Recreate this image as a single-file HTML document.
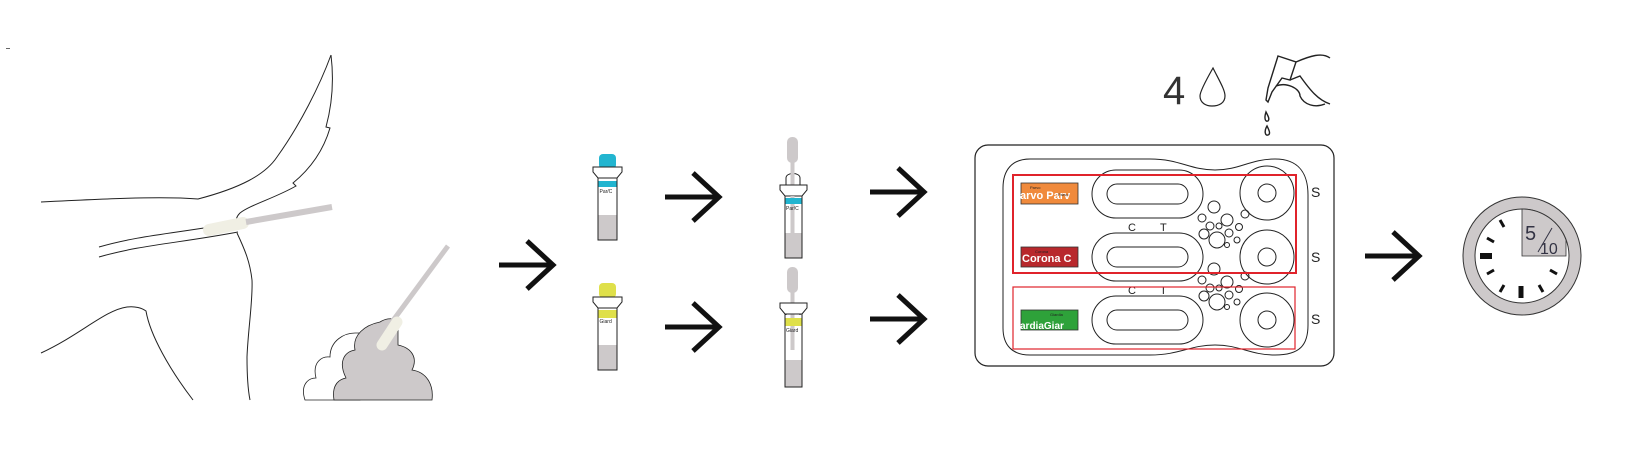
<!DOCTYPE html>
<html><head><meta charset="utf-8"><style>html,body{margin:0;padding:0;background:#fff}svg{display:block}</style></head><body>
<svg width="1626" height="470" viewBox="0 0 1626 470" xmlns="http://www.w3.org/2000/svg" font-family="Liberation Sans, sans-serif">
<defs>
<g id="arrow"><path d="M0 0 H54 M28 -24 L54 0 L28 24" fill="none" stroke="#111" stroke-width="5"/></g>
<g id="bub">
<circle cx="1214" cy="207" r="6"/><circle cx="1202" cy="218" r="4"/><circle cx="1227" cy="220" r="6"/><circle cx="1219" cy="226" r="3"/><circle cx="1210" cy="226" r="4"/><circle cx="1239" cy="227" r="3.5"/><circle cx="1204" cy="234" r="5"/><circle cx="1229" cy="233" r="4"/><circle cx="1217" cy="240" r="8"/><circle cx="1237" cy="240" r="3"/><circle cx="1227" cy="245" r="2.5"/><circle cx="1245" cy="214" r="4"/>
</g>
</defs>
<!-- dog -->
<g fill="none" stroke="#222" stroke-width="1">
<path d="M41 202 C100 199 160 196 198 199 C240 188 265 175 277 157 C300 125 320 85 331 55"/>
<path d="M331 55 C334 80 332 105 326 127 L330 128 C325 145 315 165 293 183 L296 186 C275 198 250 205 240 213 C236 217 236 220 237 222"/>
<path d="M99 247 C140 235 180 233 240 222"/>
<path d="M99 257 C140 245 180 243 238 232"/>
<path d="M237 233 C245 250 250 262 252 280 C253 300 248 330 247 357 C247 375 248 390 250 400"/>
<path d="M41 353 C80 335 105 310 127 307 C135 306 142 308 146 311 C150 335 170 370 193 400"/>
</g>
<path d="M209 230 L243 223" stroke="#f0efe4" stroke-width="12" stroke-linecap="round"/>
<path d="M246 222 L332 207" stroke="#cdc9ca" stroke-width="6"/>
<!-- poop -->
<path d="M305 400 C300 385 308 378 316 378 C312 362 322 356 330 357 C330 340 345 333 355 333 L360 333 L360 400 Z" fill="#fff" stroke="#222" stroke-width="0.8"/>
<path d="M334 400 C332 388 336 380 346 378 C338 362 344 352 355 350 C352 335 365 325 380 322 C386 318 392 318 398 320 L398 345 C412 348 418 358 412 370 C426 372 434 384 432 400 Z" fill="#cdc9ca" stroke="#222" stroke-width="0.8"/>
<path d="M386 330 L448 246" stroke="#cdc9ca" stroke-width="5"/>
<path d="M382 345 L397 322" stroke="#f0efe4" stroke-width="11" stroke-linecap="round"/>
<use href="#arrow" x="499" y="265"/>
<!-- tubes -->
<g>
<rect x="599" y="154" width="17" height="15" rx="4" fill="#22b5d0"/>
<path d="M593 167 H622 V172 L617 178 H598 L593 172 Z" fill="#fff" stroke="#222" stroke-width="1"/>
<rect x="598" y="178" width="19" height="62" fill="#fff" stroke="#222" stroke-width="1"/>
<rect x="598.5" y="215" width="18" height="24.5" fill="#cdc9ca"/>
<rect x="598.5" y="181" width="18" height="6" fill="#22b5d0"/>
<text x="599.5" y="193" font-size="5" fill="#222">Par/C</text>
</g>
<g>
<rect x="599" y="283" width="17" height="15" rx="4" fill="#dfe04a"/>
<path d="M593 297 H622 V302 L617 308 H598 L593 302 Z" fill="#fff" stroke="#222" stroke-width="1"/>
<rect x="598" y="308" width="19" height="62" fill="#fff" stroke="#222" stroke-width="1"/>
<rect x="598.5" y="345" width="18" height="24.5" fill="#cdc9ca"/>
<rect x="598.5" y="310" width="18" height="8" fill="#dfe04a"/>
<text x="599.5" y="323" font-size="5" fill="#222">Giard</text>
</g>
<use href="#arrow" x="665" y="197"/>
<use href="#arrow" x="665" y="327"/>
<!-- swab tubes -->
<g>
<rect x="787" y="137" width="11" height="26" rx="5" fill="#cdc9ca"/>
<rect x="790.5" y="160" width="4" height="60" fill="#cdc9ca"/>
<path d="M786 185 V178 C786 172 800 172 800 178 V185" fill="#fff" stroke="#222"/>
<rect x="790.5" y="172" width="4" height="60" fill="#cdc9ca"/>
<path d="M780 185 H807 V190 L802 196 H785 L780 190 Z" fill="#fff" stroke="#222"/>
<rect x="785" y="196" width="17" height="62" fill="none" stroke="#222"/>
<rect x="790.5" y="196" width="4" height="40" fill="#cdc9ca"/>
<rect x="785.5" y="233" width="16" height="24.5" fill="#cdc9ca"/>
<rect x="785.5" y="198" width="16" height="6" fill="#22b5d0"/>
<text x="786" y="210" font-size="5" fill="#222">Par/C</text>
</g>
<g>
<rect x="787" y="267" width="11" height="26" rx="5" fill="#cdc9ca"/>
<path d="M786 315 V308 C786 302 800 302 800 308 V315" fill="#fff" stroke="#222"/>
<rect x="790.5" y="290" width="4" height="60" fill="#cdc9ca"/>
<path d="M780 303 H807 V308 L802 314 H785 L780 308 Z" fill="#fff" stroke="#222"/>
<rect x="785" y="314" width="17" height="73" fill="none" stroke="#222"/>
<rect x="785.5" y="360" width="16" height="26.5" fill="#cdc9ca"/>
<rect x="785.5" y="318" width="16" height="8" fill="#dfe04a"/>
<text x="786" y="332" font-size="5" fill="#222">Giard</text>
</g>
<use href="#arrow" x="870" y="192"/>
<use href="#arrow" x="870" y="319"/>
<!-- card -->
<rect x="975" y="145" width="359" height="221" rx="13" fill="#fff" stroke="#222" stroke-width="1.2"/>
<path d="M1030 159 H1150 C1180 159 1190 170 1215 170 C1240 170 1250 159 1275 159 C1300 159 1308 175 1308 195 V325 C1308 345 1300 355 1275 355 C1250 355 1240 345 1215 345 C1190 345 1180 355 1150 355 H1030 C1012 355 1003 345 1003 328 V188 C1003 170 1012 159 1030 159 Z" fill="none" stroke="#222" stroke-width="1"/>
<g fill="none" stroke="#222" stroke-width="1">
<rect x="1092" y="170" width="111" height="48" rx="24"/><rect x="1107" y="184" width="81" height="20" rx="10"/>
<rect x="1092" y="233" width="111" height="48" rx="24"/><rect x="1107" y="247" width="81" height="20" rx="10"/>
<rect x="1092" y="296" width="111" height="48" rx="24"/><rect x="1107" y="310" width="81" height="20" rx="10"/>
<circle cx="1267" cy="193" r="27"/><circle cx="1267" cy="193" r="9"/>
<circle cx="1267" cy="257" r="27"/><circle cx="1267" cy="257" r="9"/>
<circle cx="1267" cy="320" r="27"/><circle cx="1267" cy="320" r="9"/>
<use href="#bub"/><use href="#bub" y="62"/>
</g>
<g font-size="11" fill="#222"><text x="1128" y="231">C</text><text x="1160" y="231">T</text><text x="1128" y="294">C</text><text x="1160" y="294">T</text></g>
<g font-size="14" fill="#222"><text x="1311" y="197">S</text><text x="1311" y="262">S</text><text x="1311" y="324">S</text></g>
<g stroke="#333" stroke-width="0.8">
<rect x="1021" y="183" width="57" height="21" fill="#f08a3c"/>
<rect x="1021" y="247" width="57" height="20" fill="#b8282c"/>
<rect x="1021" y="310" width="57" height="20" fill="#2ea23a"/>
</g>
<g font-weight="bold" fill="#fff">
<text x="1020" y="199" font-size="11">arvo Parv</text>
<text x="1022" y="262" font-size="11">Corona C</text>
<text x="1020" y="329" font-size="10">ardiaGiar</text>
</g>
<g font-size="4" fill="#222"><text x="1030" y="189">Parvo</text><text x="1058" y="196">Parvo</text><text x="1035" y="253">Corona</text><text x="1050" y="316">Giardia</text></g>
<rect x="1013" y="175" width="283" height="98" fill="none" stroke="#e0232b" stroke-width="2"/>
<rect x="1013" y="287" width="282" height="62" fill="none" stroke="#e0232b" stroke-width="1.2"/>
<!-- 4 drops -->
<text x="1163" y="104" font-size="40" fill="#333">4</text>
<path d="M1213 68 C1205 82 1200 92 1200 96 C1200 103 1206 106 1212 106 C1219 106 1225 103 1225 96 C1225 90 1220 82 1213 68 Z" fill="none" stroke="#222" stroke-width="1.2"/>
<g fill="none" stroke="#222" stroke-width="1.4">
<path d="M1278 56 L1296 62 L1290 80 L1282 78 L1272 92 L1268 102 L1266 100 L1268 88 Z"/>
<path d="M1290 80 L1300 76 C1310 90 1318 100 1330 104"/>
<path d="M1296 62 C1310 56 1322 52 1330 58"/>
<path d="M1276 86 C1286 82 1300 88 1300 96 C1304 105 1315 108 1325 104"/>
<path d="M1266 112 C1268 116 1270 119 1268 121 C1265 122 1264 118 1266 112 Z"/>
<path d="M1267 126 C1269 130 1271 134 1268 135 C1265 136 1264 131 1267 126 Z"/>
</g>
<use href="#arrow" x="1365" y="256"/>
<!-- clock -->
<circle cx="1522" cy="256" r="59" fill="#cdc9ca" stroke="#333" stroke-width="1"/>
<circle cx="1522" cy="256" r="47" fill="#fff" stroke="#333" stroke-width="1"/>
<path d="M1522 256 V209 A47 47 0 0 1 1566 240 V256 Z" fill="#cdc9ca" stroke="#333" stroke-width="0.8"/>
<text x="1525" y="240" font-size="20" fill="#334">5</text>
<line x1="1538" y1="252" x2="1552" y2="228" stroke="#334" stroke-width="1"/>
<text x="1540" y="254" font-size="16" fill="#334">10</text>
<g stroke="#111" stroke-width="3">
<line x1="1480" y1="256" x2="1492" y2="256" stroke-width="6"/>
<line x1="1521" y1="286" x2="1521" y2="298" stroke-width="5"/>
<line x1="1500" y1="220" x2="1504" y2="227"/>
<line x1="1487" y1="238" x2="1494" y2="242"/>
<line x1="1487" y1="274" x2="1494" y2="270"/>
<line x1="1500" y1="292" x2="1504" y2="285"/>
<line x1="1543" y1="292" x2="1539" y2="285"/>
<line x1="1557" y1="274" x2="1550" y2="270"/>
</g>
<rect x="6" y="48" width="4" height="1" fill="#666"/>
</svg>
</body></html>
